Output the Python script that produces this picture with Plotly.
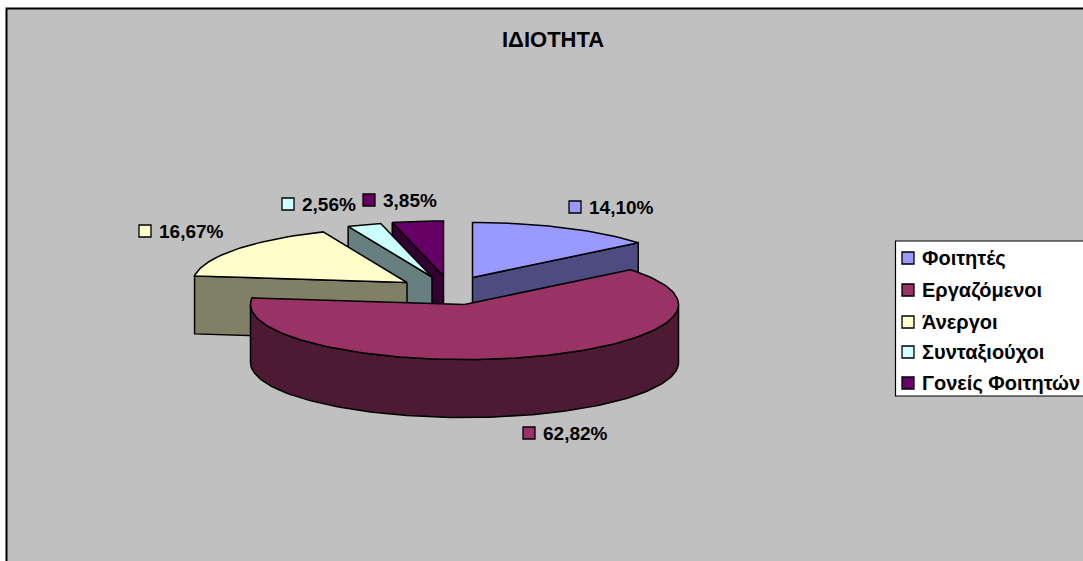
import math
import plotly.graph_objects as go

# ---- data ----
categories = ["Φοιτητές", "Εργαζόμενοι", "Άνεργοι", "Συνταξιούχοι", "Γονείς Φοιτητών"]
values = [14.10, 62.82, 16.67, 2.56, 3.85]
title_text = "ΙΔΙΟΤΗΤΑ"

# ---- style ----
top_colors = ["#9999FF", "#993366", "#FFFFCC", "#CCFFFF", "#660066"]
side_colors = ["#4C4C80", "#4D1A33", "#808066", "#668080", "#330033"]
FONT = "Liberation Sans, Arial, sans-serif"

# ---- layout of the pseudo-3D pie (pixel-like axes) ----
W, H = 1083, 561
RX, RY, DEPTH = 214.0, 55.0, 58.0
centres = [(472.5, 277.5), (464.5, 304.5), (407, 282.5), (432, 277), (443.5, 276)]
draw_order = [4, 3, 2, 0, 1]
label_pos = [(575, 207), (529, 433), (145, 231), (288, 204), (369, 200)]
legend_rows = [258, 290, 322, 352, 383]


def rim(c, a, b, dy=0.0, step=1.5):
    n = max(2, int(abs(b - a) / step) + 1)
    pts = []
    for k in range(n + 1):
        t = math.radians(a + (b - a) * k / n)
        pts.append((c[0] + RX * math.sin(t), c[1] - RY * math.cos(t) + dy))
    return pts


fig = go.Figure()


def poly(pts, fill, name):
    fig.add_trace(go.Scatter(
        x=[p[0] for p in pts] + [pts[0][0]],
        y=[p[1] for p in pts] + [pts[0][1]],
        mode="lines", fill="toself", fillcolor=fill,
        line=dict(color="#000000", width=1.5), name=name,
        hoverinfo="name", showlegend=False))


# slice angles come from the values
total = sum(values)
angles = []
acc = 0.0
for v in values:
    angles.append((acc, acc + v / total * 360))
    acc += v / total * 360

for i in draw_order:
    a, b = angles[i]
    c = centres[i]
    name = categories[i]
    # cut faces turned towards the viewer
    for th, visible in ((a, a > 180), (b, b < 180)):
        if visible:
            e = rim(c, th, th, 0)[0]
            poly([c, e, (e[0], e[1] + DEPTH), (c[0], c[1] + DEPTH)], side_colors[i], name)
    # outer wall, front half only
    lo, hi = max(a, 90), min(b, 270)
    if lo < hi:
        front = rim(c, lo, hi)
        poly(front + rim(c, hi, lo, DEPTH), side_colors[i], name)
    # top face
    poly([c] + rim(c, a, b), top_colors[i], name)

# value labels with keys
fig.add_trace(go.Scatter(
    x=[p[0] for p in label_pos], y=[p[1] for p in label_pos], mode="markers",
    marker=dict(symbol="square", size=12, color=top_colors,
                line=dict(color="#000000", width=1.3)),
    hoverinfo="skip", showlegend=False))

# legend keys
fig.add_trace(go.Scatter(
    x=[908] * len(categories), y=legend_rows, mode="markers",
    marker=dict(symbol="square", size=12, color=top_colors,
                line=dict(color="#000000", width=1.3)),
    hoverinfo="skip", showlegend=False))

annotations = [dict(x=552.5, y=39, text=f"<b>{title_text}</b>", showarrow=False,
                    font=dict(family=FONT, size=22, color="#000000"))]
for i, v in enumerate(values):
    annotations.append(dict(
        x=label_pos[i][0] + 12, y=label_pos[i][1], xanchor="left",
        text="<b>" + f"{v:.2f}".replace(".", ",") + "%</b>", showarrow=False,
        font=dict(family=FONT, size=19, color="#000000")))
for i, name in enumerate(categories):
    annotations.append(dict(
        x=920, y=legend_rows[i], xanchor="left", text=f"<b>{name}</b>", showarrow=False,
        font=dict(family=FONT, size=20, color="#000000")))

fig.update_layout(
    width=W, height=H, margin=dict(l=0, r=0, t=0, b=0),
    paper_bgcolor="#FFFFFF", plot_bgcolor="#FFFFFF", showlegend=False,
    xaxis=dict(range=[0, W], visible=False, fixedrange=True),
    yaxis=dict(range=[H, 0], visible=False, fixedrange=True),
    annotations=annotations,
    shapes=[
        dict(type="rect", x0=6.5, y0=8.5, x1=W + 20, y1=H + 20, layer="below",
             fillcolor="#C0C0C0", line=dict(color="#000000", width=2)),
        dict(type="rect", x0=895.5, y0=241, x1=W + 20, y1=396, layer="below",
             fillcolor="#FFFFFF", line=dict(color="#000000", width=1.2)),
    ],
)
fig.write_html("out.html", config=dict(displayModeBar=False),
               post_script="document.body.style.margin='0';document.body.style.overflow='hidden';")
